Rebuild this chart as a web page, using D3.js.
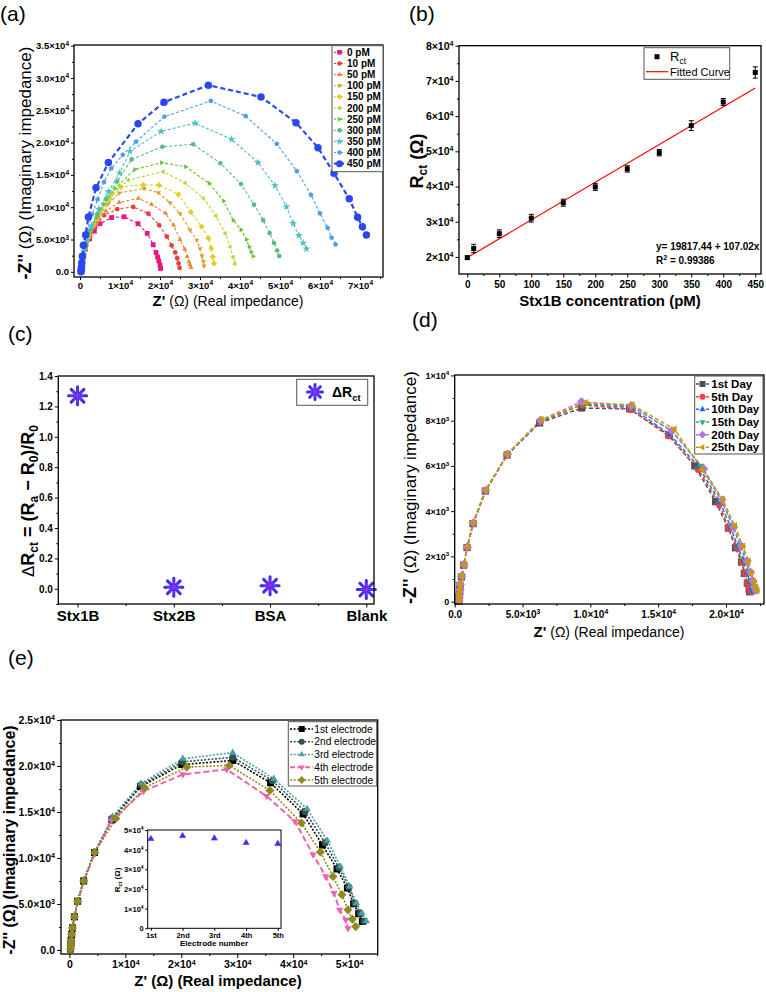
<!DOCTYPE html>
<html><head><meta charset="utf-8">
<script src="https://cdn.jsdelivr.net/npm/d3@7"></script>
<style>body{margin:0;background:#fff}svg{display:block}</style>
</head><body><svg id="chart" width="766" height="992"></svg>
<script>
// ---------------- DATA ----------------
// (a) Nyquist plots for Stx1B concentrations  [Z', -Z'']
const aNames = ["0 pM","10 pM","50 pM","100 pM","150 pM","200 pM","250 pM","300 pM","350 pM","400 pM","450 pM"];
const a0pM = [[450,0],[470,350],[520,800],[620,1400],[850,2300],[1350,3500],[2400,5100],[3600,6300],[5000,7450],[7900,8400],[11000,8520],[14500,7450],[16800,5950],[18300,4200],[19000,3000],[19400,2300],[19700,1700],[20000,1050],[20150,520]];
const a10pM = [[450,0],[480,450],[540,1000],[680,1700],[950,2700],[1500,3900],[2500,5400],[3800,7000],[6000,8750],[9300,9700],[13300,10050],[17100,9000],[19800,7200],[21700,5450],[22900,4100],[23800,3000],[24300,2100],[24650,1300],[24900,600]];
const a50pM = [[450,0],[490,500],[560,1100],[720,1900],[1050,3000],[1700,4300],[2800,6000],[4300,7700],[6500,9400],[9800,10750],[14600,11370],[17900,10450],[21400,9040],[23400,7230],[25000,5000],[26200,3500],[26800,2350],[27250,1550],[27500,1100],[27750,650]];
const a100pM = [[450,0],[500,550],[590,1200],[780,2100],[1150,3300],[1900,4800],[3100,6600],[4700,8500],[7000,10500],[9800,12200],[16000,12900],[19600,12250],[22500,10700],[25000,9000],[27500,6500],[29200,4900],[30000,3600],[30500,2450],[30850,1550],[31000,900]];
const a150pM = [[450,0],[510,650],[610,1400],[830,2400],[1250,3700],[2100,5300],[3400,7200],[5100,9200],[7400,11300],[10200,13150],[15800,13450],[19800,13400],[24600,12000],[27700,9250],[30400,7000],[32100,5200],[32800,3650],[33200,2350],[33500,1300]];
const a200pM = [[450,0],[520,700],[640,1550],[880,2650],[1350,4000],[2300,5700],[3700,7700],[5500,9800],[8000,12000],[12100,14200],[20800,15500],[26300,13750],[30800,11400],[34000,8650],[36300,5950],[37500,3900],[38300,2250],[38750,1200]];
const a250pM = [[450,0],[530,750],[660,1650],[930,2850],[1450,4300],[2500,6100],[4000,8300],[6000,10500],[8700,12900],[13700,15850],[20400,16880],[26400,16260],[32300,13690],[35900,10950],[38300,8000],[40250,6500],[41600,5000],[42300,3900],[42800,3100],[43300,2400]];
const a300pM = [[450,0],[540,800],[690,1750],[980,3000],[1550,4600],[2700,6600],[4300,8900],[6500,11300],[9300,14000],[12900,17400],[20600,19360],[28300,19730],[35100,16800],[40250,13580],[43500,10400],[45800,8000],[47400,6000],[48500,4450],[49300,3300],[49800,2450]];
const a350pM = [[450,0],[550,850],[720,1850],[1020,3150],[1650,4900],[2900,7100],[4700,9700],[7100,12400],[9900,15300],[12500,18650],[20300,21750],[28800,23000],[37900,20500],[44500,16900],[48750,13350],[51600,10070],[53300,7500],[54700,5650],[55800,4450],[56600,3550]];
const a400pM = [[450,0],[560,900],[760,2100],[1150,3700],[1850,6300],[3000,8900],[4400,11200],[6000,13900],[7800,16000],[10700,18100],[14000,20150],[21100,24000],[32700,26450],[41400,24100],[49200,19800],[54200,15600],[57750,11900],[60000,9050],[61900,6800],[62900,5300],[63900,4250]];
const a450pM = [[250,0],[300,300],[350,700],[450,1400],[600,2400],[850,4100],[1400,5700],[2100,8500],[4000,13000],[7100,16900],[14500,22900],[21000,26250],[32100,28880],[45250,27050],[54000,23080],[59500,19210],[63500,15240],[67300,11300],[69400,8450],[70600,6980],[71600,5700]];
const aSeries = [a0pM,a10pM,a50pM,a100pM,a150pM,a200pM,a250pM,a300pM,a350pM,a400pM,a450pM];
const aXTicks = [0,10000,20000,30000,40000,50000,60000,70000];
const aXLabels = ["0","1×10^4","2×10^4","3×10^4","4×10^4","5×10^4","6×10^4","7×10^4"];
const aYTicks = [0,5000,10000,15000,20000,25000,30000,35000];
const aYLabels = ["0.0","5.0×10^3","1.0×10^4","1.5×10^4","2.0×10^4","2.5×10^4","3.0×10^4","3.5×10^4"];

// (b) calibration
const bConc = [0,10,50,100,150,200,250,300,350,400,450];
const bRct = [19800,22400,26600,31000,35400,39900,45000,49600,57300,64000,72400];
const bErr = [400,1200,1100,1100,1000,1000,900,900,1400,1000,1600];
const bFit = [19817.44, 107.02];
const bXTicks = [0,50,100,150,200,250,300,350,400,450];
const bXLabels = ["0","50","100","150","200","250","300","350","400","450"];
const bYTicks = [20000,30000,40000,50000,60000,70000,80000];
const bYLabels = ["2×10^4","3×10^4","4×10^4","5×10^4","6×10^4","7×10^4","8×10^4"];

// (c) selectivity
const cCats = ["Stx1B","Stx2B","BSA","Blank"];
const cVals = [1.27, 0.01, 0.02, -0.005];
const cYTicks = [0,0.2,0.4,0.6,0.8,1.0,1.2,1.4];
const cYLabels = ["0.0","0.2","0.4","0.6","0.8","1.0","1.2","1.4"];

// (d) stability
const dNames = ["1st Day","5th Day","10th Day","15th Day","20th Day","25th Day"];
const d1st = [[300,20],[320,150],[340,300],[360,480],[390,720],[500,1090],[660,1610],[910,2390],[1350,3450],[2260,4890],[3860,6480],[6260,7900],[9360,8560],[12900,8520],[15800,7360],[17700,6000],[19230,4420],[20170,3250],[20700,2380],[21150,1750],[21350,1250],[21570,820],[21700,560],[21750,430]];
const d5th = [[310,30],[330,160],[350,310],[370,490],[400,730],[510,1100],[670,1620],[920,2400],[1360,3460],[2270,4900],[3870,6490],[6280,7950],[9400,8700],[12950,8500],[15750,7330],[17950,5850],[19500,4300],[20200,3250],[20800,2400],[21200,1750],[21400,1250],[21600,820],[21750,560],[21850,450]];
const d10th = [[310,40],[330,170],[350,320],[370,500],[400,740],[510,1100],[670,1620],[920,2400],[1360,3460],[2270,4900],[3870,6500],[6290,7970],[9450,8750],[13000,8580],[15850,7400],[18000,5950],[19550,4400],[20350,3300],[20850,2450],[21300,1800],[21550,1300],[21750,880],[21900,600],[21950,470]];
const d15th = [[320,40],[340,180],[360,330],[380,510],[410,750],[520,1110],[680,1630],[930,2410],[1370,3470],[2280,4910],[3880,6510],[6300,7990],[9500,8760],[13050,8640],[16050,7520],[18150,6000],[19650,4480],[20500,3350],[21050,2450],[21450,1800],[21700,1300],[21900,880],[22050,620],[22100,480]];
const d20th = [[320,50],[340,190],[360,340],[380,520],[410,760],[520,1120],[680,1630],[930,2420],[1370,3480],[2290,4920],[3890,6520],[6320,8020],[9350,8840],[13000,8660],[16000,7560],[18350,5880],[19700,4500],[20550,3300],[21150,2450],[21550,1800],[21800,1300],[22000,900],[22100,650],[22200,500]];
const d25th = [[330,50],[350,200],[370,350],[390,530],[420,770],[530,1130],[690,1640],[940,2430],[1380,3490],[2300,4930],[3900,6530],[6400,8050],[9650,8790],[13100,8700],[16200,7620],[18250,5830],[19750,4530],[20650,3350],[21250,2450],[21650,1800],[21850,1280],[22050,900],[22200,660],[22300,480]];
const dSeries = [d1st,d5th,d10th,d15th,d20th,d25th];
const dXTicks = [0,5000,10000,15000,20000];
const dXLabels = ["0.0","5.0×10^3","1.0×10^4","1.5×10^4","2.0×10^4"];
const dYTicks = [0,2000,4000,6000,8000,10000];
const dYLabels = ["0","2×10^3","4×10^3","6×10^3","8×10^3","1×10^4"];

// (e) reproducibility
const eNames = ["1st electrode","2nd electrode","3rd electrode","4th electrode","5th electrode"];
const e1st = [[200,100],[250,500],[300,1000],[400,1700],[550,2400],[900,3600],[1480,5300],[2550,7500],[4500,10600],[7600,14150],[12700,17750],[20100,20150],[29200,20600],[35950,18170],[41770,14790],[45220,11410],[47830,8800],[49680,6730],[50800,5020],[51690,3930],[52350,3090]];
const e2nd = [[200,100],[250,500],[300,1000],[400,1700],[550,2400],[900,3600],[1480,5300],[2550,7550],[4500,10650],[7700,14350],[12800,17950],[20200,20450],[29200,20950],[36300,18400],[42100,15050],[45700,11650],[48150,8950],[49950,6850],[51050,5070],[51950,3970],[52650,3120]];
const e3rd = [[200,100],[250,500],[300,1000],[400,1700],[550,2400],[900,3600],[1480,5300],[2550,7550],[4500,10650],[7750,14500],[12800,18100],[20270,20790],[29180,21450],[36540,18610],[42480,15340],[46110,11880],[48430,9080],[50090,6900],[51280,5090],[52290,4000],[53070,3160]];
const e4th = [[200,100],[250,500],[300,1000],[400,1700],[550,2400],[900,3600],[1480,5250],[2550,7400],[4500,10450],[7500,14050],[13240,17260],[20270,19080],[28110,19630],[35240,16720],[40290,13990],[43550,10360],[45810,7990],[47290,6180],[48310,4360],[49380,3270],[49790,2360]];
const e5th = [[200,100],[250,500],[300,1000],[400,1700],[550,2400],[900,3600],[1480,5300],[2550,7500],[4550,10600],[8300,14300],[13420,17630],[20980,19880],[28570,20060],[35830,17340],[41480,13810],[44860,10650],[47110,7990],[48720,6000],[49790,4360],[50570,3350],[51160,2540]];
const eSeries = [e1st,e2nd,e3rd,e4th,e5th];
const eXTicks = [0,10000,20000,30000,40000,50000];
const eXLabels = ["0","1×10^4","2×10^4","3×10^4","4×10^4","5×10^4"];
const eYTicks = [0,5000,10000,15000,20000,25000];
const eYLabels = ["0.0","5.0×10^3","1.0×10^4","1.5×10^4","2.0×10^4","2.5×10^4"];
const insetCats = ["1st","2nd","3rd","4th","5th"];
const insetRct = [45500,47000,45800,43500,43000];
const insetYTicks = [0,10000,20000,30000,40000,50000];
const insetYLabels = ["0","1×10^4","2×10^4","3×10^4","4×10^4","5×10^4"];

// ---------------- STYLE ----------------
const FONT = "Arial, 'Liberation Sans', Helvetica, sans-serif";
const aColors = ["#e8177f","#e8403a","#ea8436","#d6a02a","#e3cd2c","#b5d634","#66c530","#56bd83","#4fbfbf","#4a9eea","#2b48f0"];
const aShapes = ["square","circle","triUp","triDown","diamond","triLeft","triRight","hexagon","star","pentagon","circle"];
const dColors = ["#515151","#F14040","#1A6FDF","#37AD6B","#B177DE","#CC9900"];
const dShapes = ["square","circle","triUp","triDown","diamond","triLeft"];
const eColors = ["#000000","#2f5353","#4a9e9e","#f062b0","#8f8a1f"];
const eShapes = ["square","circle","triUp","triDown","diamond"];

const svg = d3.select("#chart");

function polyPath(pts){ return "M" + pts.map(p=>p[0].toFixed(2)+","+p[1].toFixed(2)).join("L") + "Z"; }
function regPoly(n, r, rot){ const pts=[]; for(let i=0;i<n;i++){ const a=rot+i*2*Math.PI/n; pts.push([r*Math.sin(a), -r*Math.cos(a)]);} return polyPath(pts); }
function shape(type, s){
  const r = s/2;
  switch(type){
    case "square": return polyPath([[-r,-r],[r,-r],[r,r],[-r,r]]);
    case "circle": return d3.symbol(d3.symbolCircle, Math.PI*r*r)();
    case "triUp": return regPoly(3, r*1.2, 0);
    case "triDown": return regPoly(3, r*1.2, Math.PI);
    case "triLeft": return regPoly(3, r*1.2, -Math.PI/2);
    case "triRight": return regPoly(3, r*1.2, Math.PI/2);
    case "diamond": return regPoly(4, r*1.3, 0);
    case "hexagon": return regPoly(6, r*1.05, 0);
    case "pentagon": return regPoly(5, r*1.1, 0);
    case "star": return d3.symbol(d3.symbolStar, s*s*0.9)();
  }
}
function fmtLabels(a){
  a.selectAll(".tick text").each(function(){
    const t=d3.select(this); const s=t.text();
    if(s.indexOf("^")>=0){ const [m,e]=s.split("^"); t.text(null);
      t.append("tspan").text(m);
      t.append("tspan").attr("font-size","0.68em").attr("dy","-0.55em").text(e); }
  });
}
function styleAxis(a, fs, fw){
  a.select(".domain").remove();
  a.selectAll(".tick line").attr("stroke","#000").attr("stroke-width",1);
  a.selectAll(".tick text").attr("font-size",fs).attr("font-weight",fw||"bold").attr("fill","#000").attr("font-family",FONT);
  fmtLabels(a);
}
function makePanel(o){
  const x = d3.scaleLinear().domain(o.xd).range([o.l,o.r]);
  const y = d3.scaleLinear().domain(o.yd).range([o.b,o.t]);
  const g = svg.append("g");
  const ax = g.append("g");
  if(o.xMinor) ax.append("g").attr("transform",`translate(0,${o.b})`).call(d3.axisBottom(x).tickValues(o.xMinor).tickSize(2).tickFormat(()=>"")).call(a=>styleAxis(a,1));
  if(o.yMinor) ax.append("g").attr("transform",`translate(${o.l},0)`).call(d3.axisLeft(y).tickValues(o.yMinor).tickSize(2).tickFormat(()=>"")).call(a=>styleAxis(a,1));
  ax.append("g").attr("transform",`translate(0,${o.b})`).call(d3.axisBottom(x).tickValues(o.xTicks).tickSize(o.ts||3.5).tickPadding(o.xPad||2).tickFormat((d,i)=>o.xLabels[i])).call(a=>styleAxis(a,o.xfs,o.xfw));
  ax.append("g").attr("transform",`translate(${o.l},0)`).call(d3.axisLeft(y).tickValues(o.yTicks).tickSize(o.ts||3.5).tickPadding(o.yPad||2).tickFormat((d,i)=>o.yLabels[i])).call(a=>styleAxis(a,o.yfs,o.yfw));
  const data = g.append("g");
  g.append("rect").attr("x",o.l).attr("y",o.t).attr("width",o.r-o.l).attr("height",o.b-o.t)
    .attr("fill","none").attr("stroke","#000").attr("stroke-width",1.3);
  return {g, data, x, y};
}
function rich(parent, x, y, segs, rotate, anchor){
  const t = parent.append("text").attr("font-family",FONT).attr("fill","#000").attr("text-anchor",anchor||"middle")
    .attr("transform", rotate ? `translate(${x},${y}) rotate(-90)` : `translate(${x},${y})`);
  let cur=0;
  segs.forEach(s=>{
    const ts=t.append("tspan").text(s.t).attr("font-size",s.fs).attr("font-weight",s.fw||"normal");
    const sh=s.sh||0; if(sh!==cur){ ts.attr("dy",sh-cur); cur=sh; }
  });
  return t;
}
function title(txt,x,y){ svg.append("text").attr("x",x).attr("y",y).attr("font-family",FONT).attr("font-size",21).text(txt); }
function range(a,b,s){ const r=[]; for(let v=a; v<=b+1e-9; v+=s) r.push(+v.toFixed(6)); return r; }

// ---------------- (a) ----------------
title("(a)",0,21);
{
  const P = makePanel({l:74,r:383,t:45,b:277,xd:[-1500,75750],yd:[-800,35100],
    xTicks:aXTicks,xLabels:aXLabels,yTicks:aYTicks,yLabels:aYLabels,
    xMinor:range(5000,75000,10000),yMinor:range(2500,32500,5000),xfs:9.5,yfs:9.5,ts:3});
  const line = d3.line().x(d=>P.x(d[0])).y(d=>P.y(d[1]));
  aSeries.forEach((s,i)=>{
    const big = i===10;
    P.data.append("path").attr("d",line(s)).attr("fill","none").attr("stroke",aColors[i])
      .attr("stroke-width", big?2.2:1.1).attr("stroke-dasharray", big?"5,3":"3,2");
    P.data.selectAll(null).data(s).join("path").attr("d",shape(aShapes[i], big?7.5:4.8))
      .attr("transform",d=>`translate(${P.x(d[0])},${P.y(d[1])})`).attr("fill",aColors[i]);
  });
  // legend
  const L = P.g.append("g");
  L.append("rect").attr("x",332).attr("y",45.7).attr("width",51).attr("height",126).attr("fill","#fff").attr("stroke","#555").attr("stroke-width",1);
  aNames.forEach((n,i)=>{
    const yy = 52.3 + i*11.14, big=i===10;
    L.append("line").attr("x1",334).attr("x2",345).attr("y1",yy).attr("y2",yy).attr("stroke",aColors[i]).attr("stroke-width",big?2.2:1.1).attr("stroke-dasharray",big?"4,2":"2,1.5");
    L.append("path").attr("d",shape(aShapes[i], big?7:4.6)).attr("transform",`translate(339.5,${yy})`).attr("fill",aColors[i]);
    L.append("text").attr("x",347).attr("y",yy+3.5).attr("font-family",FONT).attr("font-size",10).attr("font-weight","bold").text(n);
  });
  rich(svg, 31, 163, [{t:"-Z''",fs:18,fw:"bold"},{t:" (Ω) (Imaginary impedance)",fs:17}], true);
  rich(svg, 228, 306, [{t:"Z'",fs:15,fw:"bold"},{t:" (Ω) (Real impedance)",fs:14}], false);
}

// ---------------- (b) ----------------
title("(b)",409,21);
{
  const P = makePanel({l:459,r:761,t:45.7,b:274,xd:[-13,459],yd:[15150,80000],
    xTicks:bXTicks,xLabels:bXLabels,yTicks:bYTicks,yLabels:bYLabels,
    xMinor:range(25,425,50),yMinor:range(25000,75000,10000),xfs:10,yfs:10.5,ts:3.5,xPad:3});
  P.data.append("line").attr("x1",P.x(0)).attr("x2",P.x(450))
    .attr("y1",P.y(bFit[0]+bFit[1]*0)).attr("y2",P.y(bFit[0]+bFit[1]*450)).attr("stroke","#ff0000").attr("stroke-width",1.2);
  bConc.forEach((c,i)=>{
    const cx=P.x(c), y1=P.y(bRct[i]-bErr[i]), y2=P.y(bRct[i]+bErr[i]);
    P.data.append("line").attr("x1",cx).attr("x2",cx).attr("y1",y1).attr("y2",y2).attr("stroke","#000").attr("stroke-width",1);
    [y1,y2].forEach(yy=>P.data.append("line").attr("x1",cx-2.5).attr("x2",cx+2.5).attr("y1",yy).attr("y2",yy).attr("stroke","#000").attr("stroke-width",1));
    P.data.append("path").attr("d",shape("square",5)).attr("transform",`translate(${cx},${P.y(bRct[i])})`).attr("fill","#000");
  });
  const L=P.g.append("g");
  L.append("rect").attr("x",644).attr("y",47.7).attr("width",85.7).attr("height",31.6).attr("fill","#fff").attr("stroke","#555");
  L.append("path").attr("d",shape("square",5)).attr("transform","translate(657,56.7)").attr("fill","#000");
  rich(L, 670, 61, [{t:"R",fs:13},{t:"ct",fs:8.5,sh:3}], false, "start");
  L.append("line").attr("x1",646).attr("x2",668).attr("y1",71.7).attr("y2",71.7).attr("stroke","#ff0000").attr("stroke-width",1.2);
  L.append("text").attr("x",670).attr("y",75.7).attr("font-family",FONT).attr("font-size",11).text("Fitted Curve");
  P.g.append("text").attr("x",656).attr("y",250).attr("font-family",FONT).attr("font-size",10).attr("font-weight","bold").text("y= 19817.44 + 107.02x");
  rich(P.g, 656, 263.5, [{t:"R",fs:10,fw:"bold"},{t:"2",fs:7,fw:"bold",sh:-4},{t:" = 0.99386",fs:10,fw:"bold",sh:0}], false, "start");
  rich(svg, 422.5, 161, [{t:"R",fs:18,fw:"bold"},{t:"ct",fs:12,fw:"bold",sh:4},{t:" (Ω)",fs:18,fw:"bold",sh:0}], true);
  rich(svg, 610, 306, [{t:"Stx1B concentration (pM)",fs:15,fw:"bold"}], false);
}

// ---------------- (c) ----------------
title("(c)",8,341);
function asterisk(g, cx, cy, r){
  const gg=g.append("g").attr("transform",`translate(${cx},${cy})`);
  [0,45,90,135].forEach(a=>{
    const dx=r*Math.cos(a*Math.PI/180), dy=r*Math.sin(a*Math.PI/180);
    gg.append("line").attr("x1",-dx).attr("y1",-dy).attr("x2",dx).attr("y2",dy).attr("stroke","#3a2cf5").attr("stroke-width",3).attr("stroke-linecap","round");
  });
  [0,45,90,135].forEach(a=>{
    const dx=r*0.75*Math.cos(a*Math.PI/180), dy=r*0.75*Math.sin(a*Math.PI/180);
    gg.append("line").attr("x1",-dx).attr("y1",-dy).attr("x2",dx).attr("y2",dy).attr("stroke","#b030d8").attr("stroke-width",0.9);
  });
}
{
  const P = makePanel({l:58.3,r:374,t:376,b:604,xd:[0.8,4.08],yd:[-0.1,1.4],
    xTicks:[1,2,3,4],xLabels:cCats,yTicks:cYTicks,yLabels:cYLabels,
    xMinor:[1.5,2.5,3.5],yMinor:range(-0.1,1.3,0.2),xfs:15,yfs:10,ts:3.5,xPad:3});
  cVals.forEach((v,i)=>asterisk(P.data, P.x(i+1), P.y(v), 9));
  const L=P.g.append("g");
  L.append("rect").attr("x",296.7).attr("y",379.3).attr("width",71).attr("height",26).attr("fill","#fff").attr("stroke","#555");
  asterisk(L, 315, 392, 7.5);
  rich(L, 332, 397, [{t:"ΔR",fs:14,fw:"bold"},{t:"ct",fs:9.5,fw:"bold",sh:3.5}], false, "start");
  rich(svg, 34, 501, [{t:"Δ",fs:17},{t:"R",fs:18,fw:"bold"},{t:"ct",fs:12,fw:"bold",sh:4},{t:" = (R",fs:18,fw:"bold",sh:0},{t:"a",fs:12,fw:"bold",sh:4},{t:" − R",fs:18,fw:"bold",sh:0},{t:"0",fs:12,fw:"bold",sh:4},{t:")/R",fs:18,fw:"bold",sh:0},{t:"0",fs:12,fw:"bold",sh:4}], true);
}

// ---------------- (d) ----------------
title("(d)",412,327);
{
  const P = makePanel({l:454.7,r:764,t:375,b:604,xd:[0,22800],yd:[-105,10020],
    xTicks:dXTicks,xLabels:dXLabels,yTicks:dYTicks,yLabels:dYLabels,
    xMinor:range(2500,22500,5000),yMinor:range(1000,9000,2000),xfs:10,yfs:9,ts:3.5,xPad:3});
  const line = d3.line().x(d=>P.x(d[0])).y(d=>P.y(d[1]));
  dSeries.forEach((s,i)=>{
    P.data.append("path").attr("d",line(s)).attr("fill","none").attr("stroke",dColors[i]).attr("stroke-width",1.5).attr("stroke-dasharray","4,2.5");
  });
  dSeries.forEach((s,i)=>{
    P.data.selectAll(null).data(s).join("path").attr("d",shape(dShapes[i],7.2))
      .attr("transform",d=>`translate(${P.x(d[0])},${P.y(d[1])})`).attr("fill",dColors[i]);
  });
  const L=P.g.append("g");
  L.append("rect").attr("x",694.7).attr("y",376).attr("width",68.3).attr("height",78).attr("fill","#fff").attr("stroke","#555");
  dNames.forEach((n,i)=>{
    const yy=384+i*12.67;
    L.append("line").attr("x1",696).attr("x2",709.7).attr("y1",yy).attr("y2",yy).attr("stroke",dColors[i]).attr("stroke-width",1.5).attr("stroke-dasharray","3,2");
    L.append("path").attr("d",shape(dShapes[i],6)).attr("transform",`translate(702.5,${yy})`).attr("fill",dColors[i]);
    L.append("text").attr("x",711.3).attr("y",yy+4).attr("font-family",FONT).attr("font-size",11.5).attr("font-weight","bold").text(n);
  });
  rich(svg, 416, 487.5, [{t:"-Z''",fs:18,fw:"bold"},{t:" (Ω) (Imaginary impedance)",fs:17}], true);
  rich(svg, 609, 637, [{t:"Z'",fs:15,fw:"bold"},{t:" (Ω) (Real impedance)",fs:14}], false);
}

// ---------------- (e) ----------------
title("(e)",8,665);
{
  const P = makePanel({l:61,r:377.7,t:720,b:954,xd:[-1500,55100],yd:[-440,25000],
    xTicks:eXTicks,xLabels:eXLabels,yTicks:eYTicks,yLabels:eYLabels,
    xMinor:range(5000,55000,10000),yMinor:range(2500,22500,5000),xfs:10.5,yfs:10.5,ts:4,xPad:3});
  const line = d3.line().x(d=>P.x(d[0])).y(d=>P.y(d[1]));
  eSeries.forEach((s,i)=>{
    const dash = i===3;
    P.data.append("path").attr("d",line(s)).attr("fill","none").attr("stroke",eColors[i])
      .attr("stroke-width",dash?2:1.6).attr("stroke-dasharray",dash?"6,3":"2,1.6");
  });
  eSeries.forEach((s,i)=>{
    P.data.selectAll(null).data(s).join("path").attr("d",shape(eShapes[i],7))
      .attr("transform",d=>`translate(${P.x(d[0])},${P.y(d[1])})`).attr("fill",eColors[i]);
  });
  const L=P.g.append("g");
  L.append("rect").attr("x",288.3).attr("y",721.7).attr("width",88.4).attr("height",64.3).attr("fill","#fff").attr("stroke","#555");
  eNames.forEach((n,i)=>{
    const yy=729+i*12.75, dash=i===3;
    L.append("line").attr("x1",290).attr("x2",313).attr("y1",yy).attr("y2",yy).attr("stroke",eColors[i]).attr("stroke-width",dash?2:1.6).attr("stroke-dasharray",dash?"5,2.5":"2,1.6");
    L.append("path").attr("d",shape(eShapes[i],6)).attr("transform",`translate(301.7,${yy})`).attr("fill",eColors[i]);
    L.append("text").attr("x",314.3).attr("y",yy+3.6).attr("font-family",FONT).attr("font-size",10.2).text(n);
  });
  // inset
  const I = makePanel({l:147.7,r:281,t:830,b:928.3,xd:[0.9,5.1],yd:[0,50000],
    xTicks:[1,2,3,4,5],xLabels:insetCats,yTicks:insetYTicks,yLabels:insetYLabels,
    xfs:7.5,yfs:7.5,ts:2.5,xPad:1.5,yPad:1.5});
  I.g.insert("rect",":first-child").attr("x",147.7).attr("y",830).attr("width",133.3).attr("height",98.3).attr("fill","#fff");
  I.g.select("rect:last-of-type").attr("stroke-width",1);
  insetRct.forEach((v,i)=>{
    I.data.append("path").attr("d",shape("triUp",7.5)).attr("transform",`translate(${I.x(i+1)},${I.y(v)})`).attr("fill","#f2c6e6");
    I.data.append("path").attr("d",shape("triUp",6.5)).attr("transform",`translate(${I.x(i+1)},${I.y(v)})`).attr("fill","#3333ff");
  });
  rich(svg, 214, 945.5, [{t:"Electrode number",fs:8,fw:"bold"}], false);
  rich(svg, 120, 880, [{t:"R",fs:8,fw:"bold"},{t:"ct",fs:5.5,fw:"bold",sh:2},{t:" (Ω)",fs:8,fw:"bold",sh:0}], true);
  rich(svg, 15, 840, [{t:"-Z'' (Ω) (Imaginary impedance)",fs:16,fw:"bold"}], true);
  rich(svg, 218, 986, [{t:"Z' (Ω) (Real impedance)",fs:15,fw:"bold"}], false);
}
</script></body></html>
